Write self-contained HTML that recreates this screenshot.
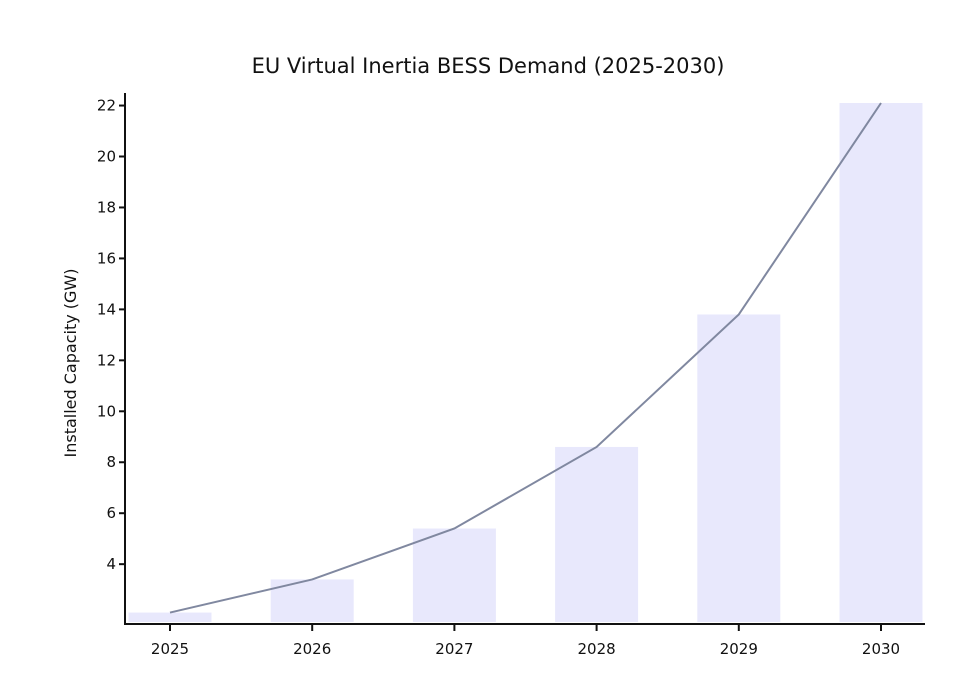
<!DOCTYPE html>
<html><head><meta charset="utf-8"><style>
html,body{margin:0;padding:0;background:#fff;}
svg{display:block;font-family:"DejaVu Sans","Liberation Sans",sans-serif;}
</style></head><body>
<svg id="chart" width="975" height="685" viewBox="0 0 975 685">
<text x="488" y="73" text-anchor="middle" font-size="21" fill="#111">EU Virtual Inertia BESS Demand (2025-2030)</text>
<text transform="translate(76,363) rotate(-90)" text-anchor="middle" font-size="16" fill="#111">Installed Capacity (GW)</text>
<g id="bars"></g><g id="line"></g><g id="axes"></g>
</svg>
<script>
const categories=["2025","2026","2027","2028","2029","2030"];
const barValues=[2.1,3.4,5.4,8.6,13.8,22.1];
const lineValues=[2.1,3.4,5.4,8.6,13.8,22.1];
const yTicks=[4,6,8,10,12,14,16,18,20,22];
const yMin=1.73,yMax=22.1;
const NS="http://www.w3.org/2000/svg";
const plotLeft=125,plotRight=925,plotTop=103,plotBottom=622;
const bw=83;
function xc(i){return 170+(881-170)*i/(categories.length-1);}
function yv(v){return plotBottom-(v-yMin)/(yMax-yMin)*(plotBottom-plotTop);}
function mk(t,a,p){const e=document.createElementNS(NS,t);for(const k in a)e.setAttribute(k,a[k]);p.appendChild(e);return e;}
const gb=document.getElementById('bars'),gl=document.getElementById('line'),ga=document.getElementById('axes');
barValues.forEach((v,i)=>{
 const r=mk('rect',{x:xc(i)-bw/2,y:yv(v),width:bw,height:plotBottom-yv(v),fill:"#e8e8fc"},gb);
 
 
});
const pl=mk('polyline',{points:lineValues.map((v,i)=>xc(i)+","+yv(v)).join(" "),fill:"none",stroke:"#8088a0","stroke-width":2},gl);


const ya=mk('line',{x1:plotLeft,y1:plotTop-10,x2:plotLeft,y2:plotBottom+3,stroke:"#111","stroke-width":2},ga);


const xa=mk('line',{x1:plotLeft-1,y1:plotBottom+2,x2:plotRight,y2:plotBottom+2,stroke:"#111","stroke-width":2},ga);


yTicks.forEach(t=>{
 mk('line',{x1:plotLeft-6,y1:yv(t),x2:plotLeft,y2:yv(t),stroke:"#111","stroke-width":2},ga);
 const tx=mk('text',{x:plotLeft-9,y:yv(t)+5,"text-anchor":"end","font-size":15,fill:"#111"},ga);
 tx.textContent=t;
 
 
});
categories.forEach((c,i)=>{
 mk('line',{x1:xc(i),y1:plotBottom+2,x2:xc(i),y2:plotBottom+9,stroke:"#111","stroke-width":2},ga);
 const tx=mk('text',{x:xc(i),y:plotBottom+32,"text-anchor":"middle","font-size":15,fill:"#111"},ga);
 tx.textContent=c;
 
 
});
</script>
</body></html>
